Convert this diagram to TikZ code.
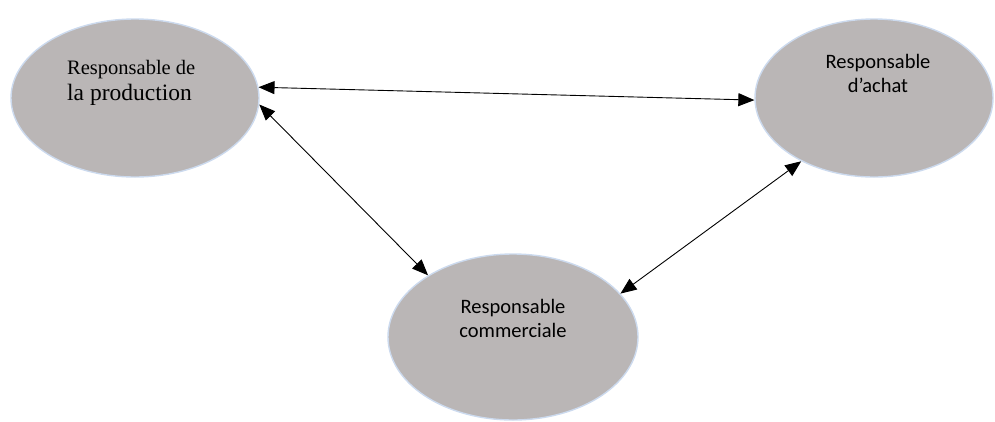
\documentclass[tikz,border=0pt]{standalone}
\usepackage{fontspec}
\setmainfont{Liberation Serif}
\newfontfamily\calibrifont{Carlito}
\usetikzlibrary{shapes.geometric,arrows.meta}
\definecolor{bubblefill}{HTML}{BAB6B6}
\definecolor{bubbleedge}{HTML}{CCDAEE}
\tikzset{
  bubble/.style={ellipse, fill=bubblefill, draw=bubbleedge, line width=1.4pt, inner sep=0pt},
  link/.style={line width=0.9pt, {Triangle[length=16pt,width=13pt]}-{Triangle[length=16pt,width=13pt]}},
  serifline/.style={anchor=base west, inner sep=0pt},
  sansline/.style={anchor=base, inner sep=0pt, font=\calibrifont\fontsize{20.5pt}{24pt}\selectfont},
}
\begin{document}
\begin{tikzpicture}[x=1pt,y=-1pt]
\useasboundingbox (0,0) rectangle (995,421);

% the three roles
\node[bubble, minimum width=248pt, minimum height=158pt] (prod) at (135,98) {};
\node[bubble, minimum width=238pt, minimum height=158pt] (achat) at (874,98) {};
\node[bubble, minimum width=250pt, minimum height=166pt] (comm) at (513,337) {};

% labels
\node[serifline, font=\fontsize{20.5pt}{24pt}\selectfont] (prodA) at (67,74) {Responsable de};
\node[serifline, font=\fontsize{23.5pt}{27pt}\selectfont] (prodB) at (67,100) {la production};
\node[sansline] (achatA) at (878,68) {Responsable};
\node[sansline] (achatB) at (878,92) {d’achat};
\node[sansline] (commA) at (513,313) {Responsable};
\node[sansline] (commB) at (513,337) {commerciale};

% exchanges between roles
\draw[link] (prod.5) -- (achat.181);
\draw[link] (prod.-3) -- (comm.144);
\draw[link] (comm.22) -- (achat.-139);
\end{tikzpicture}
\end{document}
